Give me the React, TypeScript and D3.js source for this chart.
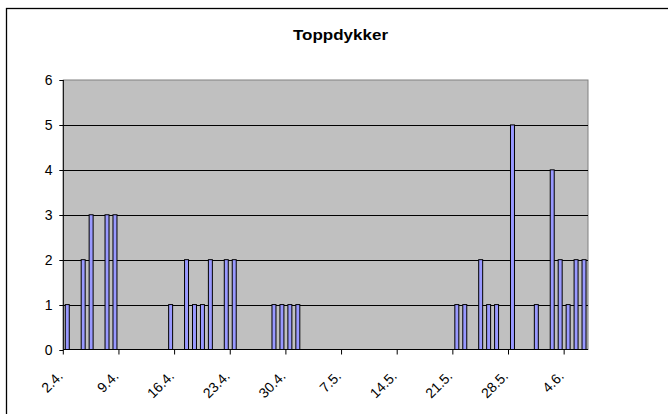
import React from "react";
import * as d3 from "d3";

const TITLE = "Toppdykker";
const START = new Date(2007, 3, 2);
const DAY_COUNT = 66;
const categories: string[] = d3.range(DAY_COUNT).map((i) => {
  const d = d3.timeDay.offset(START, i);
  return `${d.getDate()}.${d.getMonth() + 1}.`;
});
const values: number[] = [
  1, 0, 2, 3, 0, 3, 3, 0, 0, 0, 0, 0, 0, 1, 0, 2, 1, 1, 2, 0, 2, 2,
  0, 0, 0, 0, 1, 1, 1, 1, 0, 0, 0, 0, 0, 0, 0, 0, 0, 0, 0, 0, 0, 0,
  0, 0, 0, 0, 0, 1, 1, 0, 2, 1, 1, 0, 5, 0, 0, 1, 0, 4, 2, 1, 2, 2,
];
const xTickLabels = ["2.4.", "9.4.", "16.4.", "23.4.", "30.4.", "7.5.", "14.5.", "21.5.", "28.5.", "4.6."];
const yTicks = [0, 1, 2, 3, 4, 5, 6];

const W = 668;
const H = 414;
const plot = { left: 63.3, right: 588, top: 80, bottom: 349.5 };

export default function App() {
  const x = d3
    .scaleBand<string>()
    .domain(categories)
    .range([plot.left, plot.right])
    .paddingInner(0.5)
    .paddingOuter(0.25);
  const step = x.step();
  const y = d3.scaleLinear().domain([0, 6]).range([plot.bottom, plot.top]);
  const tickX = (label: string) => {
    const i = categories.indexOf(label);
    return plot.left + i * step;
  };
  const font = "'Liberation Sans', Arial, sans-serif";
  return (
    <div style={{ position: "fixed", left: 0, top: 0, width: W, height: H, background: "#fff" }}>
      <svg width={W} height={H} style={{ display: "block" }}>
        <rect x={6.5} y={8.5} width={680} height={420} fill="#fff" stroke="#000" strokeWidth={1.3} />
        <text
          x={340.5}
          y={39.5}
          textAnchor="middle"
          fontFamily={font}
          fontWeight="bold"
          fontSize={15}
          textLength={95}
          lengthAdjust="spacingAndGlyphs"
        >
          {TITLE}
        </text>
        <rect
          x={plot.left}
          y={plot.top}
          width={plot.right - plot.left}
          height={plot.bottom - plot.top}
          fill="#c0c0c0"
          stroke="#808080"
          strokeWidth={1}
        />
        {yTicks.slice(1, -1).map((t) => (
          <line key={t} x1={plot.left} x2={plot.right} y1={Math.round(y(t)) + 0.5} y2={Math.round(y(t)) + 0.5} stroke="#000" strokeWidth={1} />
        ))}
        {values.map((v, i) =>
          v > 0 ? (
            <rect
              key={i}
              x={(x(categories[i]) as number)}
              y={y(v)}
              width={x.bandwidth()}
              height={y(0) - y(v)}
              fill="#9999ff"
              stroke="#000"
              strokeWidth={1}
            />
          ) : null
        )}
        {/* y axis */}
        <line x1={plot.left} x2={plot.left} y1={plot.top} y2={plot.bottom} stroke="#000" />
        {yTicks.map((t) => (
          <g key={t}>
            <line x1={plot.left - 4} x2={plot.left} y1={Math.round(y(t)) + 0.5} y2={Math.round(y(t)) + 0.5} stroke="#000" />
            <text x={52.5} y={y(t)} dy="0.36em" textAnchor="end" fontFamily={font} fontSize={14}>
              {t}
            </text>
          </g>
        ))}
        {/* x axis */}
        <line x1={plot.left} x2={plot.right} y1={plot.bottom} y2={plot.bottom} stroke="#000" />
        {xTickLabels.map((lab) => {
          const tx = tickX(lab);
          return (
            <g key={lab}>
              <line x1={tx} x2={tx} y1={plot.bottom} y2={plot.bottom + 5} stroke="#000" />
              <text
                transform={`translate(${tx + 0.5},${377}) rotate(-45)`}
                textAnchor="end"
                fontFamily={font}
                fontSize={14}
              >
                {lab}
              </text>
            </g>
          );
        })}
      </svg>
    </div>
  );
}
